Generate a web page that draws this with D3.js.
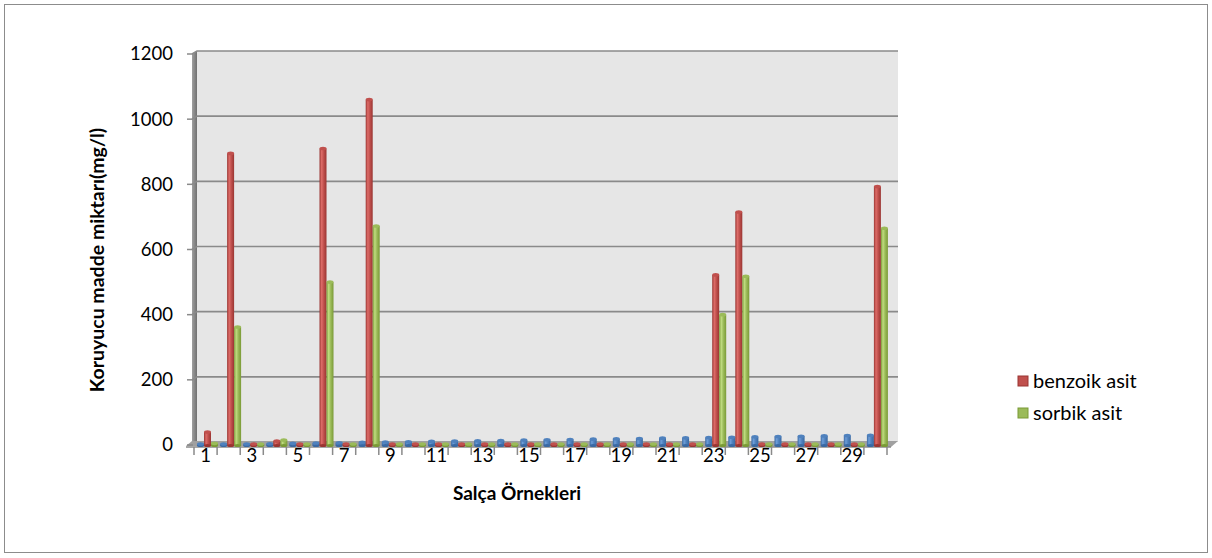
<!DOCTYPE html>
<html><head><meta charset="utf-8">
<script src="https://cdn.jsdelivr.net/npm/d3@7/dist/d3.min.js"></script>
<style>body{margin:0;background:#fff}svg{display:block}text{font-family:Lato,"Open Sans",sans-serif}</style>
</head><body>
<svg id="c" width="1212" height="558"></svg>
<script>
const categories = d3.range(1,31);
const seriesNames = ["seri1","benzoik asit","sorbik asit"];
const seri1 = categories.map(d=>d);
const benzoik = [40,895,0,12,0,910,0,1060,0,0,0,0,0,0,0,0,0,0,0,0,0,0,522,715,0,0,0,0,0,793];
const sorbik  = [5,362,0,15,0,500,0,672,0,0,0,0,0,0,0,0,0,0,0,0,0,0,400,518,0,0,0,0,0,665];
const yTicks = [0,200,400,600,800,1000,1200];
const xTickLabels = categories.filter(d=>d%2===1);
const legendItems = ["benzoik asit","sorbik asit"];

const svg = d3.select("#c");
svg.append("rect").attr("x",4.5).attr("y",4.5).attr("width",1203).attr("height",548)
  .attr("fill","#fff").attr("stroke","#8c8c8c").attr("stroke-width",1);

const y = d3.scaleLinear().domain([0,1200]).range([445,54]);
const x = d3.scaleBand().domain(categories).range([194,887]);
const sub = d3.scaleBand().domain(seriesNames).range([3,24]).paddingInner(0);
const DX=5, DY=-3;

const defs = svg.append("defs");
const cols = {"seri1":["#3a69a3","#6d9dd8","#4f81bd"],"benzoik asit":["#9a3532","#dd6c68","#c0504d"],"sorbik asit":["#7a9a36","#c0dc80","#9bbb59"]};
Object.entries(cols).forEach(([k,c],i)=>{
  const g=defs.append("linearGradient").attr("id","g"+i).attr("x1","0").attr("x2","1").attr("y1","0").attr("y2","0");
  g.append("stop").attr("offset","0").attr("stop-color",c[0]);
  g.append("stop").attr("offset","0.3").attr("stop-color",c[1]);
  g.append("stop").attr("offset","0.6").attr("stop-color",c[2]);
  g.append("stop").attr("offset","1").attr("stop-color",c[0]);
});
const wg=defs.append("linearGradient").attr("id","wall").attr("x1","0").attr("x2","1");
wg.append("stop").attr("offset","0").attr("stop-color","#a0a0a0");
wg.append("stop").attr("offset","1").attr("stop-color","#707070");

const x0=x.range()[0], x1=x.range()[1];
svg.append("rect").attr("x",x0+DX-2).attr("y",y(1200)+DY).attr("width",x1-x0+8).attr("height",y(0)-y(1200))
  .attr("fill","#e6e6e6");
svg.append("path").attr("d",`M${x0-2},${y(1200)} L${x0+DX-2},${y(1200)+DY} L${x0+DX-2},${y(0)+DY} L${x0-2},${y(0)} Z`)
  .attr("fill","url(#wall)");
svg.append("g").selectAll("path").data(yTicks.slice(1)).join("path")
  .attr("d",d=>`M${x0-2},${y(d)} L${x0+DX-2},${y(d)+DY} L${x1+DX+6},${y(d)+DY}`)
  .attr("fill","none").attr("stroke","#8a8a8a").attr("stroke-width",1.6);
svg.append("path").attr("d",`M${x0-8},${y(0)+1} L${x0-2},${y(0)-4} L${x1+DX+6},${y(0)-4} L${x1+4},${y(0)+2} Z`)
  .attr("fill","#a0a0a0");
svg.append("line").attr("x1",x0-8).attr("x2",x1+4).attr("y1",y(0)+2).attr("y2",y(0)+2).attr("stroke","#8a8a8a").attr("stroke-width",1.5);

const ya=svg.append("g");
ya.selectAll("line").data(yTicks).join("line").attr("x1",x0-7).attr("x2",x0-1).attr("y1",d=>y(d)).attr("y2",d=>y(d))
  .attr("stroke","#8a8a8a").attr("stroke-width",1.5);
ya.selectAll("text").data(yTicks).join("text").attr("x",x0-21).attr("y",d=>y(d)).attr("dy","0.35em")
  .attr("text-anchor","end").attr("font-size",18.5).attr("fill","#000").text(d=>d);

svg.append("g").selectAll("line").data(categories.concat([31])).join("line")
  .attr("x1",d=>d<=30?x(d):x1).attr("x2",d=>d<=30?x(d):x1).attr("y1",y(0)+2).attr("y2",y(0)+10)
  .attr("stroke","#8a8a8a").attr("stroke-width",1.5);
svg.append("g").selectAll("text").data(xTickLabels).join("text")
  .attr("x",d=>x(d)+x.bandwidth()/2).attr("y",462).attr("text-anchor","middle").attr("font-size",18.5).text(d=>d);

const series = [seri1,benzoik,sorbik];
const bars = [];
series.forEach((vals,si)=>vals.forEach((v,ci)=>bars.push({s:seriesNames[si],si,c:categories[ci],v})));
const bg=svg.append("g");
bars.forEach(b=>{
  const bx=x(b.c)+sub(b.s), bw=sub.bandwidth(), base=y(0)-1, top=y(b.v);
  const h=Math.max(0,base-top);
  const c=cols[b.s];
  const g=bg.append("g");
  g.append("rect").attr("x",bx).attr("y",base-h).attr("width",bw).attr("height",h+1.5).attr("fill",`url(#g${b.si})`);
  g.append("ellipse").attr("cx",bx+bw/2).attr("cy",base+1.5).attr("rx",bw/2).attr("ry",1.5).attr("fill",c[0]);
  g.append("ellipse").attr("cx",bx+bw/2).attr("cy",base-h).attr("rx",bw/2).attr("ry",1.8).attr("fill",c[2]);
});

svg.append("text").attr("transform",`translate(97,260) rotate(-90)`).attr("text-anchor","middle").attr("dy","0.35em")
  .attr("font-size",19.5).attr("font-weight","bold").text("Koruyucu madde miktarı(mg/l)");
svg.append("text").attr("x",517).attr("y",500).attr("text-anchor","middle")
  .attr("font-size",19).attr("font-weight","bold").text("Salça Örnekleri");

const lg=svg.append("g").selectAll("g").data(legendItems).join("g").attr("transform",(d,i)=>`translate(1018,${376+i*32})`);
lg.append("rect").attr("width",10).attr("height",10).attr("fill",(d,i)=>cols[d][2]).attr("stroke",(d,i)=>cols[d][0]).attr("stroke-width",1);
lg.append("text").attr("x",15).attr("y",5).attr("dy","0.35em").attr("font-size",20).text(d=>d);
</script>
</body></html>
